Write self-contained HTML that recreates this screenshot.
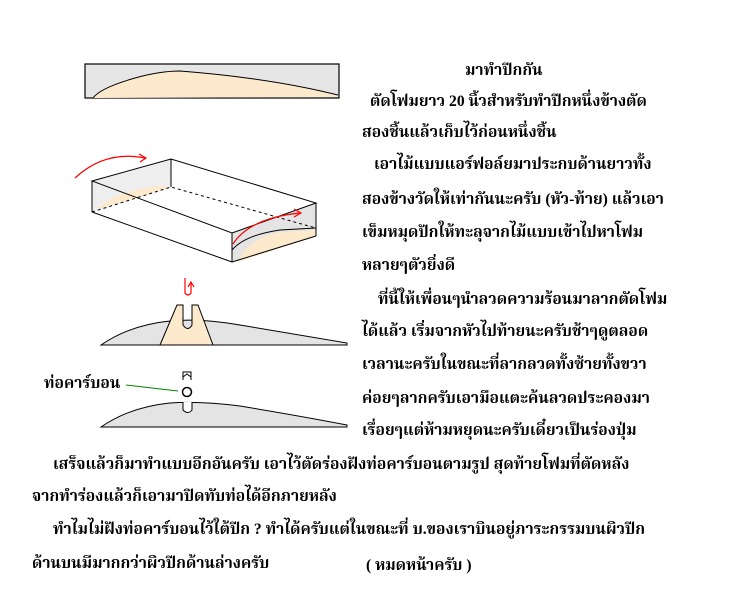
<!DOCTYPE html>
<html><head><meta charset="utf-8"><style>
body{margin:0;width:750px;height:600px;background:#fff;position:relative;overflow:hidden;font-family:"Liberation Serif","Noto Serif Thai","Noto Sans Thai",serif;font-weight:bold;font-size:15.6px;color:#000}
.t{position:absolute;white-space:nowrap;line-height:20px}
svg{position:absolute;left:0;top:0}
</style></head><body>
<svg width="750" height="600">
<rect x="85" y="64" width="254" height="34" fill="#e6e6e6" stroke="#000" stroke-width="1.2"/>
<path d="M93,98 Q100,88 135,78 Q160,71 180,71 Q270,78 338,95 L338,97 L93,98Z" fill="#fde9cc" stroke="none"/>
<path d="M93,98 Q100,88 135,78 Q160,71 180,71 Q270,78 338,95" fill="none" stroke="#000"/>
<!-- box -->
<polygon points="92,181 171,159 171,187 92,212" fill="#eee"/>
<path d="M97,208 Q120,190 160,186 L171,187 L101,208Z" fill="#fde9cc"/>
<polygon points="232,233 316,203 316,236 232,262" fill="#e4e4e4"/>
<path d="M238,262 Q245,240 280,232 L316,230 L316,236 L238,262Z" fill="#fde9cc"/>
<path d="M232,250 Q245,235 280,230 L316,228" fill="none" stroke="#000"/>
<g fill="none" stroke="#000" stroke-width="1">
<polygon points="92,181 171,159 316,203 232,233"/>
<line x1="92" y1="181" x2="92" y2="212"/>
<line x1="92" y1="212" x2="232" y2="262"/>
<line x1="232" y1="233" x2="232" y2="262"/>
<line x1="316" y1="203" x2="316" y2="236"/>
<line x1="316" y1="236" x2="232" y2="262"/>
<line x1="171" y1="159" x2="171" y2="187"/>
<path d="M92,212 L171,187 L305,225 L316,228" stroke-dasharray="3,3"/>
</g>
<g fill="none" stroke="#f00" stroke-width="1.2">
<path d="M75,178 Q105,150 145,158"/><path d="M139,154 L146,158 L140,162"/>
<path d="M233,244 Q250,218 300,213"/><path d="M294,209 L301,213 L294,217"/>
<path d="M185,278 L185,293 Q188,297 191,293 L191,283"/><path d="M188,287 L191,282 L194,287"/>
</g>
<!-- airfoil 1 -->
<path d="M101,345 Q130,325 170,321 Q200,318 240,325 Q300,335 347,343 L347,345Z" fill="#e4e4e4" stroke="#000"/>
<path d="M160,345 L177,305 L183,305 L183,325 Q188,332 192,325 L192,305 L198,305 L213,345Z" fill="#fde9cc" stroke="#000"/>
<!-- airfoil 2 -->
<path d="M101,427 Q130,407 170,403 Q200,401 240,406 Q300,416 347,425 L347,427Z" fill="#e4e4e4" stroke="#000"/>
<path d="M183,402 L183,410 Q188,415 192,410 L192,402" fill="#fff" stroke="#000"/>
<circle cx="187" cy="392" r="4.5" fill="#fff" stroke="#000" stroke-width="1.5"/>
<path d="M183,380 L183,372 L191,372 L191,380 M183,377 L187,374 L191,377" fill="none" stroke="#000"/>
<line x1="126" y1="385" x2="178" y2="391" stroke="#080"/>
</svg>
<div class="t" style="left:44px;top:374px">ท่อคาร์บอน</div>
<div class="t" style="left:465px;top:61px">มาทำปีกกัน</div>
<div class="t" style="left:370px;top:92px">ตัดโฟมยาว 20 นิ้วสำหรับทำปีกหนึ่งข้างตัด</div>
<div class="t" style="left:362px;top:123px">สองชิ้นแล้วเก็บไว้ก่อนหนึ่งชิ้น</div>
<div class="t" style="left:374px;top:155px">เอาไม้แบบแอร์ฟอล์ยมาประกบด้านยาวทั้ง</div>
<div class="t" style="left:362px;top:190px">สองข้างวัดให้เท่ากันนะครับ (หัว-ท้าย) แล้วเอา</div>
<div class="t" style="left:362px;top:223px">เข็มหมุดปักให้ทะลุจากไม้แบบเข้าไปหาโฟม</div>
<div class="t" style="left:362px;top:256px">หลายๆตัวยิ่งดี</div>
<div class="t" style="left:378px;top:290px">ที่นี้ให้เพื่อนๆนำลวดความร้อนมาลากตัดโฟม</div>
<div class="t" style="left:362px;top:322px">ได้แล้ว  เริ่มจากหัวไปท้ายนะครับช้าๆดูตลอด</div>
<div class="t" style="left:362px;top:355px">เวลานะครับในขณะที่ลากลวดทั้งซ้ายทั้งขวา</div>
<div class="t" style="left:362px;top:389px">ค่อยๆลากครับเอามือแตะค้นลวดประคองมา</div>
<div class="t" style="left:362px;top:421px">เรื่อยๆแต่ห้ามหยุดนะครับเดี๋ยวเป็นร่องปุ่ม</div>
<div class="t" style="left:53px;top:455px">เสร็จแล้วก็มาทำแบบอีกอันครับ  เอาไว้ตัดร่องฝังท่อคาร์บอนตามรูป  สุดท้ายโฟมที่ตัดหลัง</div>
<div class="t" style="left:32px;top:487px">จากทำร่องแล้วก็เอามาปิดทับท่อได้อีกภายหลัง</div>
<div class="t" style="left:53px;top:520px">ทำไมไม่ฝังท่อคาร์บอนไว้ใต้ปีก ? ทำได้ครับแต่ในขณะที่ บ.ของเราบินอยู่ภาระกรรมบนผิวปีก</div>
<div class="t" style="left:32px;top:554px">ด้านบนมีมากกว่าผิวปีกด้านล่างครับ</div>
<div class="t" style="left:366px;top:556px">( หมดหน้าครับ )</div>
</body></html>
